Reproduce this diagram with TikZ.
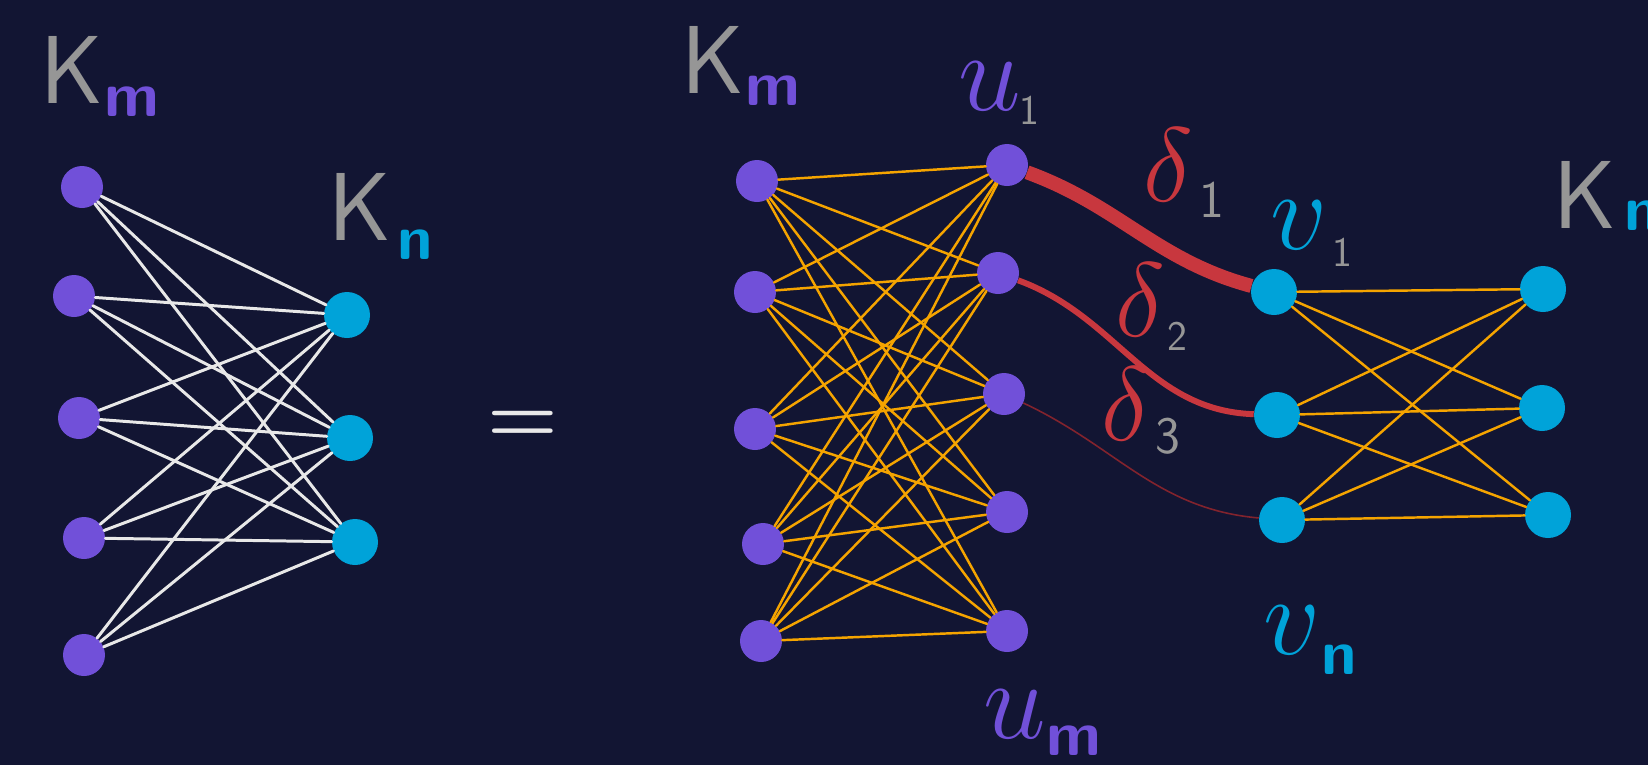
\RequirePackage{fix-cm}
\documentclass[tikz,border=0pt]{standalone}

\definecolor{bgnavy}{RGB}{18,21,51}
\definecolor{kpurple}{RGB}{113,80,217}
\definecolor{kcyan}{RGB}{0,163,217}
\definecolor{korange}{RGB}{245,164,0}
\definecolor{kred}{RGB}{200,55,62}
\definecolor{kdarkred}{RGB}{130,35,45}
\definecolor{kgray}{RGB}{150,150,150}
\definecolor{kwhite}{RGB}{232,232,232}

\tikzset{
  upt/.style={circle,fill=kpurple,inner sep=0pt,minimum size=0.84cm},
  vpt/.style={circle,fill=kcyan,inner sep=0pt,minimum size=0.92cm},
  wline/.style={kwhite,line width=1.7pt,line cap=round},
  oline/.style={korange,line width=1.4pt,line cap=round},
  klab/.style={kgray,inner sep=0pt,font=\fontsize{55}{60}\selectfont\sffamily},
  sublab/.style={inner sep=0pt,font=\fontsize{36}{40}\selectfont\sffamily\bfseries},
  mlab/.style={inner sep=0pt,font=\fontsize{64}{70}\selectfont},
  idx/.style={kgray,inner sep=0pt,font=\fontsize{24}{28}\selectfont\sffamily},
}

\begin{document}
\begin{tikzpicture}[x=0.02cm,y=-0.02cm]
  \useasboundingbox (0,0) rectangle (1648,765);
  \fill[bgnavy] (0,0) rectangle (1648,765);

  % K_m and K_n on the left
  \node[upt] (a1) at (82,187) {};
  \node[upt] (a2) at (74,296) {};
  \node[upt] (a3) at (79,418) {};
  \node[upt] (a4) at (84,538) {};
  \node[upt] (a5) at (84,655) {};
  \node[vpt] (b1) at (347,315) {};
  \node[vpt] (b2) at (350,438) {};
  \node[vpt] (b3) at (355,542) {};
  \foreach \i in {1,...,5}
    \foreach \j in {1,2,3}
      \draw[wline] (a\i) -- (b\j);

  \node[klab] (kmL) at (72,70) {K};
  \node[sublab,kpurple] (kmLs) at (132,102) {m};
  \node[klab] (knL) at (360,207) {K};
  \node[sublab,kcyan] (knLs) at (415,245) {n};

  \node[kwhite,inner sep=0pt,font=\fontsize{46}{50}\selectfont\boldmath] (eq) at (523,427) {$=$};

  % glued graph: K_m, matching edges, K_n
  \node[upt] (p1) at (757,181) {};
  \node[upt] (p2) at (755,292) {};
  \node[upt] (p3) at (755,429) {};
  \node[upt] (p4) at (763,544) {};
  \node[upt] (p5) at (761,641) {};
  \node[upt] (u1) at (1007,165) {};
  \node[upt] (u2) at (998,273) {};
  \node[upt] (u3) at (1004,394) {};
  \node[upt] (u4) at (1007,512) {};
  \node[upt] (u5) at (1007,631) {};
  \foreach \i in {1,...,5}
    \foreach \j in {1,...,5}
      \draw[oline] (p\i) -- (u\j);

  \node[vpt] (v1) at (1274,292) {};
  \node[vpt] (v2) at (1277,415) {};
  \node[vpt] (v3) at (1282,520) {};
  \node[vpt] (w1) at (1543,289) {};
  \node[vpt] (w2) at (1542,408) {};
  \node[vpt] (w3) at (1548,515) {};
  \foreach \i in {1,2,3}
    \foreach \j in {1,2,3}
      \draw[oline] (v\i) -- (w\j);

  \draw[kred,line width=8pt] (u1) to[out=-20,in=165] (v1);
  \draw[kred,line width=3.4pt] (u2) to[out=-20,in=178] (v2);
  \draw[kdarkred,line width=0.9pt] (u3) to[out=-25,in=175] (v3);

  \node[klab] (kmM) at (713,60) {K};
  \node[sublab,kpurple] (kmMs) at (773,91) {m};
  \node[klab] (knR) at (1585,195) {K};
  \node[sublab,kcyan] (knRs) at (1642,216) {n};

  \node[mlab,kpurple] (lu1) at (990,86) {$u$};
  \node[idx] (lu1s) at (1029,110) {1};
  \node[mlab,kpurple] (lum) at (1015,714) {$u$};
  \node[sublab,kpurple] (lums) at (1074,741) {m};
  \node[mlab,kcyan] (lv1) at (1299,225) {$v$};
  \node[idx] (lv1s) at (1342,252) {1};
  \node[mlab,kcyan] (lvn) at (1292,630) {$v$};
  \node[sublab,kcyan] (lvns) at (1339,660) {n};

  % weights of the matching edges
  \node[mlab,kred,font=\fontsize{60}{66}\selectfont] (d1) at (1168,165) {$\delta$};
  \node[idx,font=\fontsize{30}{34}\selectfont\sffamily] (d1s) at (1212,200) {1};
  \node[mlab,kred,font=\fontsize{60}{66}\selectfont] (d2) at (1140,300) {$\delta$};
  \node[idx] (d2s) at (1177,336) {2};
  \node[mlab,kred,font=\fontsize{60}{66}\selectfont] (d3) at (1126,404) {$\delta$};
  \node[idx,font=\fontsize{30}{34}\selectfont\sffamily] (d3s) at (1168,436) {3};
\end{tikzpicture}
\end{document}
